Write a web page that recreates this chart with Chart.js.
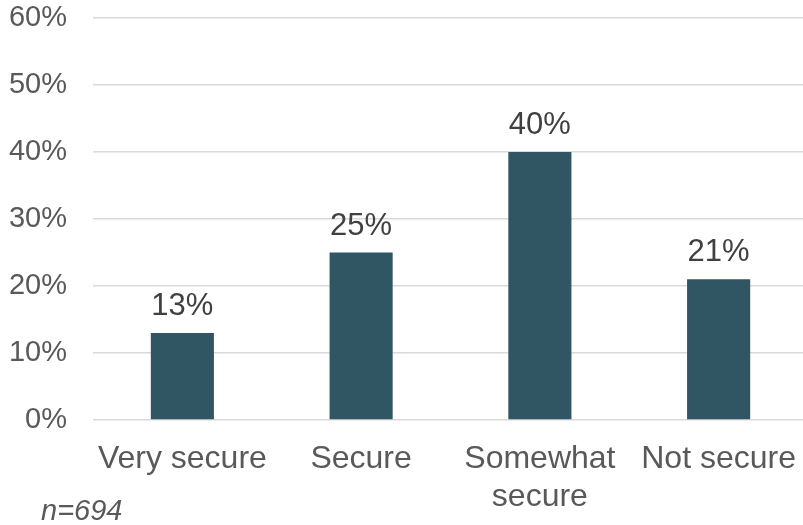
<!DOCTYPE html>
<html>
<head>
<meta charset="utf-8">
<script src="https://cdn.jsdelivr.net/npm/chart.js@4"></script>
<style>
  html, body { margin: 0; padding: 0; background: #fff; overflow: hidden; }
  #wrap { position: relative; width: 808px; height: 525px; }
</style>
</head>
<body>
<div id="wrap"><canvas id="chart" width="808" height="525"></canvas></div>
<script>
const categories = ["Very secure", "Secure", ["Somewhat", "secure"], "Not secure"];
const shares = [13, 25, 40, 21];
const sampleNote = "n=694";

const font = '"Liberation Sans", Arial, sans-serif';

// value labels above the bars plus the sample size note
const barLabels = {
    id: "barLabels",
    afterDatasetsDraw(chart) {
        const ctx = chart.ctx;
        const meta = chart.getDatasetMeta(0);
        ctx.save();
        ctx.font = "31px " + font;
        ctx.fillStyle = "#404040";
        ctx.textAlign = "center";
        ctx.textBaseline = "alphabetic";
        meta.data.forEach((bar, i) => {
            ctx.fillText(shares[i] + "%", bar.x, bar.y - 18);
        });
        ctx.font = "italic 29px " + font;
        ctx.fillStyle = "#595959";
        ctx.textAlign = "left";
        ctx.fillText(sampleNote, 41, 520);
        ctx.restore();
    }
};

new Chart(document.getElementById("chart"), {
    type: "bar",
    data: {
        labels: categories,
        datasets: [{
            data: shares,
            backgroundColor: "#305563",
            barPercentage: 0.353,
            categoryPercentage: 1
        }]
    },
    options: {
        responsive: false,
        animation: false,
        layout: { padding: { top: 18, right: 0, left: 0, bottom: 0 } },
        plugins: {
            legend: { display: false },
            tooltip: { enabled: false }
        },
        scales: {
            x: {
                grid: { display: false },
                border: { display: false },
                ticks: {
                    color: "#595959",
                    font: { family: font, size: 32 },
                    padding: 12,
                    maxRotation: 0,
                    autoSkip: false
                },
                afterFit(scale) {
                    scale.height = 105;
                    scale.paddingLeft = 0;
                    scale.paddingRight = 0;
                }
            },
            y: {
                min: 0,
                max: 60,
                border: { display: false },
                grid: { color: "#d9d9d9", lineWidth: 1.5, drawTicks: false },
                ticks: {
                    stepSize: 10,
                    color: "#595959",
                    font: { family: font, size: 29 },
                    padding: 26,
                    callback: v => v + "%"
                },
                afterFit(scale) {
                    scale.width = 93;
                    scale.paddingTop = 0;
                    scale.paddingBottom = 0;
                }
            }
        }
    },
    plugins: [barLabels]
});
</script>
</body>
</html>
